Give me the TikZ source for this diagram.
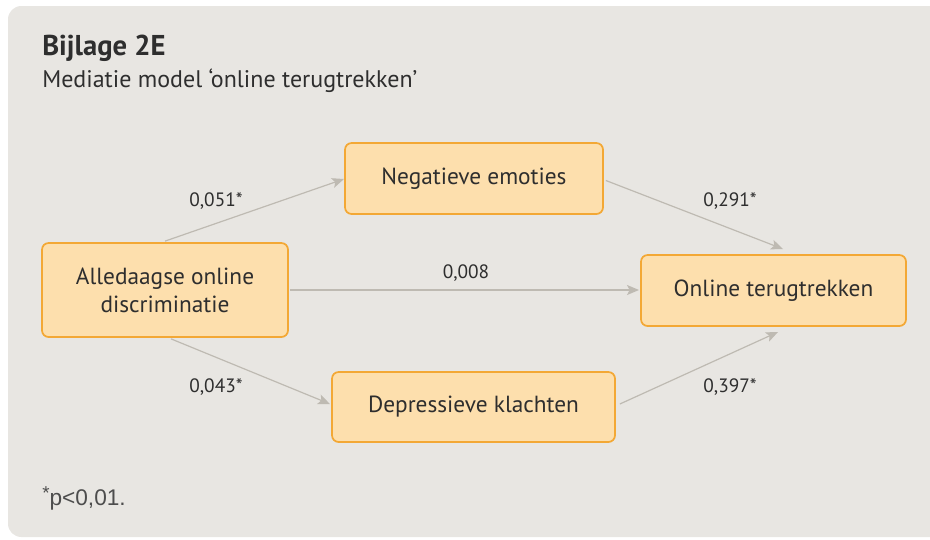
\documentclass[tikz,border=0pt]{standalone}
\usepackage{fontspec}
\setmainfont{PT Sans}
\newfontfamily\notefont{Liberation Sans}
\usetikzlibrary{arrows.meta}
\definecolor{bg}{HTML}{E8E6E2}
\definecolor{boxfill}{HTML}{FDDFAD}
\definecolor{boxline}{HTML}{F3A835}
\definecolor{arr}{HTML}{BEBAB2}
\definecolor{txt}{HTML}{2E2E2E}
\tikzset{
  varbox/.style={draw=boxline, line width=1.3pt, fill=boxfill, rounded corners=5pt,
    text=txt, font=\fontsize{17.5}{21}\selectfont, align=center, inner sep=0pt},
  path arrow/.style={draw=arr, line width=0.9pt, -{Stealth[length=9pt,width=7.5pt,inset=2pt]}},
  coef/.style={text=txt, font=\fontsize{14.5}{17}\selectfont, inner sep=0pt},
}
\begin{document}
\begin{tikzpicture}[x=0.75pt,y=-0.75pt]
\useasboundingbox (0,0) rectangle (930,539);
\begin{scope}
\clip (0,0) rectangle (930,539);
\fill[bg, rounded corners=10pt] (8,6) rectangle (960,537);
\end{scope}
% title
\node[anchor=base west, inner sep=0pt, text=txt, font=\fontsize{21.5}{26}\selectfont\bfseries] (title) at (42,55) {Bijlage 2E};
\node[anchor=base west, inner sep=0pt, text=txt, font=\fontsize{18}{22}\selectfont] (sub) at (42,87) {Mediatie model ‘online terugtrekken’};
% boxes
\node[varbox, minimum width=258*0.75pt, minimum height=71*0.75pt] (neg) at (474,178.5) {Negatieve emoties};
\node[varbox, minimum width=246*0.75pt, minimum height=94*0.75pt] (all) at (165,290) {Alledaagse online\\discriminatie};
\node[varbox, minimum width=265*0.75pt, minimum height=71*0.75pt] (onl) at (773.5,290.5) {Online terugtrekken};
\node[varbox, minimum width=283*0.75pt, minimum height=70*0.75pt] (dep) at (473.5,407) {Depressieve klachten};
% end points
\coordinate (negin) at (344,179);
\coordinate (onltop) at (783,249);
\coordinate (onlleft) at (639,290);
\coordinate (depin) at (330,404);
\coordinate (onlbot) at (778,332);
\draw[path arrow] (all.north) ++(0,-1) -- (negin);
\draw[path arrow] (neg.east) ++(2,2) -- (onltop);
\draw[path arrow] (all.east) ++(1,0) -- (onlleft);
\draw[path arrow] (all.south) ++(6,1) -- (depin);
\draw[path arrow] (dep.east) ++(4,-3) -- (onlbot);
% coefficients
\node[coef] (c1) at (216,201) {0,051*};
\node[coef] (c2) at (730,201) {0,291*};
\node[coef] (c3) at (466,273) {0,008};
\node[coef] (c4) at (216,387) {0,043*};
\node[coef] (c5) at (730,387) {0,397*};
% note
\node[anchor=base west, inner sep=0pt, text=txt!85, font=\notefont\fontsize{17}{20}\selectfont] (note) at (42,505) {\raisebox{0.25em}{\fontsize{14}{16}\selectfont*}p<0,01.};
\end{tikzpicture}
\end{document}
